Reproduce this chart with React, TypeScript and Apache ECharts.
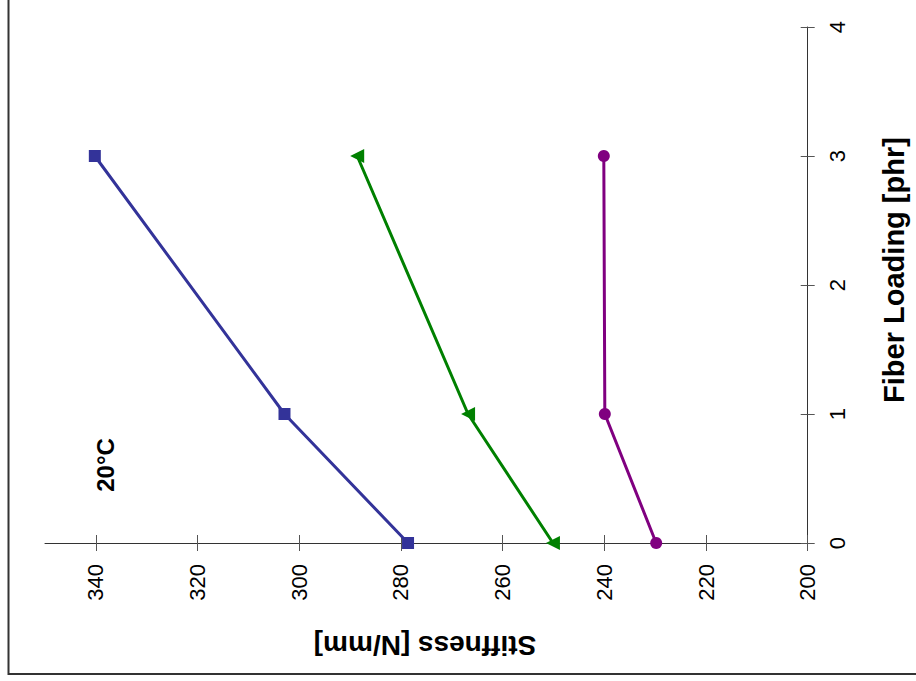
import React, { useEffect, useRef } from 'react';
import * as echarts from 'echarts';

const fiberLoading = [0, 1, 3];
const stiffnessBlue = [278.6, 302.9, 340.2];
const stiffnessGreen = [250.1, 266.8, 288.6];
const stiffnessPurple = [229.8, 239.9, 240.1];
const stiffnessTicks = [200, 220, 240, 260, 280, 300, 320, 340];
const loadingTicks = [0, 1, 2, 3, 4];
const tempLabel = '20°C';
const xTitle = 'Stiffness [N/mm]';
const yTitle = 'Fiber Loading [phr]';

const FONT = 'Liberation Sans, Arial, sans-serif';

function pairs(s: number[]) {
  return s.map((v, i) => [v, fiberLoading[i]]);
}

export default function App() {
  const ref = useRef<HTMLDivElement>(null);
  useEffect(() => {
    if (!ref.current) return;
    const chart = echarts.init(ref.current, null, { renderer: 'svg' });
    const gridBox = { left: 45, top: 27, width: 762.7, height: 516 };
    const xBase: any = { type: 'value', min: 200, max: 350, interval: 20, inverse: true, splitLine: { show: false } };
    const yBase: any = { type: 'value', min: 0, max: 4, interval: 1, position: 'right', splitLine: { show: false } };
    const tickStyle = { color: '#555', width: 1 };
    const labelStyle = { color: '#000', fontFamily: FONT, fontSize: 22 };
    chart.setOption({
      animation: false,
      backgroundColor: '#fff',
      grid: [
        { ...gridBox, containLabel: false },
        { ...gridBox, containLabel: false },
      ],
      xAxis: [
        {
          ...xBase,
          gridIndex: 0,
          position: 'bottom',
          axisLine: { show: true, onZero: false, lineStyle: { color: '#333', width: 1 } },
          axisTick: { show: true, inside: false, length: 8, customValues: stiffnessTicks, lineStyle: tickStyle },
          axisLabel: {
            show: true,
            rotate: 90,
            margin: 21,
            showMaxLabel: false,
            formatter: (v: number) => (stiffnessTicks.indexOf(v) >= 0 ? String(v) : ''),
            ...labelStyle,
          },
        },
        {
          ...xBase,
          gridIndex: 1,
          position: 'bottom',
          axisLine: { show: false, onZero: false },
          axisTick: { show: true, inside: true, length: 8, customValues: stiffnessTicks, lineStyle: tickStyle },
          axisLabel: { show: false },
        },
      ],
      yAxis: [
        {
          ...yBase,
          gridIndex: 0,
          axisLine: { show: true, onZero: false, lineStyle: { color: '#333', width: 1 } },
          axisTick: { show: true, inside: false, length: 7, customValues: loadingTicks, lineStyle: tickStyle },
          axisLabel: { show: true, rotate: 90, margin: 19, ...labelStyle },
        },
        {
          ...yBase,
          gridIndex: 1,
          axisLine: { show: false, onZero: false },
          axisTick: { show: true, inside: true, length: 7, customValues: loadingTicks, lineStyle: tickStyle },
          axisLabel: { show: false },
        },
      ],
      series: [
        {
          type: 'line',
          xAxisIndex: 0,
          yAxisIndex: 0,
          data: pairs(stiffnessBlue),
          symbol: 'rect',
          symbolSize: 12,
          lineStyle: { color: '#333399', width: 3 },
          itemStyle: { color: '#333399' },
        },
        {
          type: 'line',
          xAxisIndex: 0,
          yAxisIndex: 0,
          data: pairs(stiffnessGreen),
          symbol: 'triangle',
          symbolSize: 14,
          symbolRotate: 90,
          lineStyle: { color: '#008000', width: 3 },
          itemStyle: { color: '#008000' },
        },
        {
          type: 'line',
          xAxisIndex: 0,
          yAxisIndex: 0,
          data: pairs(stiffnessPurple),
          symbol: 'circle',
          symbolSize: 12,
          lineStyle: { color: '#800080', width: 3 },
          itemStyle: { color: '#800080' },
        },
      ],
      graphic: [
        {
          type: 'rect',
          shape: { x: 8.5, y: -10, width: 1000, height: 684 },
          style: { fill: 'none', stroke: '#333', lineWidth: 2 },
          silent: true,
        },
        {
          type: 'text',
          x: 105,
          y: 465,
          rotation: Math.PI / 2,
          style: { text: tempLabel, font: `bold 24px ${FONT}`, fill: '#000', textAlign: 'center', textVerticalAlign: 'middle' },
        },
        {
          type: 'text',
          x: 894,
          y: 270,
          rotation: Math.PI / 2,
          style: { text: yTitle, font: `bold 29px ${FONT}`, fill: '#000', textAlign: 'center', textVerticalAlign: 'middle' },
        },
        {
          type: 'text',
          x: 425,
          y: 645,
          rotation: Math.PI,
          style: { text: xTitle, font: `bold 28px ${FONT}`, fill: '#000', textAlign: 'center', textVerticalAlign: 'middle' },
        },
      ],
    });
    return () => chart.dispose();
  }, []);
  return <div ref={ref} style={{ position: 'absolute', left: 0, top: 0, width: 916, height: 681 }} />;
}
